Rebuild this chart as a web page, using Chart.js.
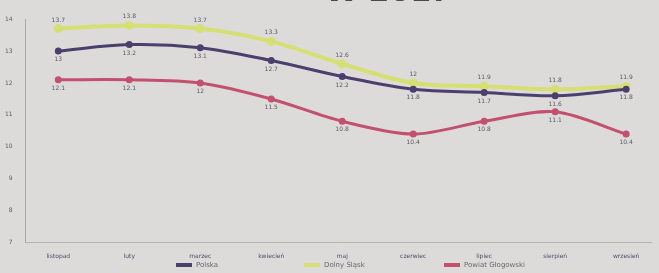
<!DOCTYPE html>
<html>
<head>
<meta charset="utf-8">
<script src="https://cdn.jsdelivr.net/npm/chart.js@4"></script>
<style>
  html, body { margin: 0; padding: 0; background: #dddbd9; }
  #wrap { width: 659px; height: 273px; }
</style>
</head>
<body>
<div id="wrap"><canvas id="myChart"></canvas></div>
<script>
const miesiace = ['listopad', 'luty', 'marzec', 'kwiecień', 'maj', 'czerwiec', 'lipiec', 'sierpień', 'wrzesień'];
const polska = [13.0, 13.2, 13.1, 12.7, 12.2, 11.8, 11.7, 11.6, 11.8];
const dolnySlask = [13.7, 13.8, 13.7, 13.3, 12.6, 12.0, 11.9, 11.8, 11.9];
const powiat = [12.1, 12.1, 12.0, 11.5, 10.8, 10.4, 10.8, 11.1, 10.4];
const osY = [7, 8, 9, 10, 11, 12, 13, 14];
const legendaX = [176, 304, 444];

const punkty = (arr) => arr.map((v, i) => ({ x: i, y: v }));

// podpisy wartosci przy punktach
const etykiety = {
  id: 'etykiety',
  afterDatasetsDraw(chart) {
    const c = chart.ctx;
    c.save();
    c.font = '6px "DejaVu Sans"';
    c.fillStyle = '#5a5866';
    c.textAlign = 'center';
    chart.data.datasets.forEach((ds, di) => {
      const meta = chart.getDatasetMeta(di);
      meta.data.forEach((pt, i) => {
        const v = ds.data[i].y;
        const txt = Number.isInteger(v) ? String(v) : v.toFixed(1);
        const dy = ds.labelAbove ? -7 : 10;
        c.fillText(txt, pt.x, pt.y + dy);
      });
    });
    c.restore();
  }
};

// legenda pod osia + resztka tytulu ucietego u gory
const dodatki = {
  id: 'dodatki',
  afterDraw(chart) {
    const c = chart.ctx;
    c.save();
    c.font = '7px "DejaVu Sans"';
    c.textBaseline = 'middle';
    chart.data.datasets.forEach((ds, di) => {
      const x = legendaX[di];
      c.fillStyle = ds.borderColor;
      c.fillRect(x, 263, 16, 4);
      c.fillStyle = '#6a6670';
      c.fillText(ds.label, x + 20, 265);
    });
    c.font = 'bold 30px "DejaVu Sans"';
    c.fillStyle = '#4a4850';
    c.textAlign = 'right';
    c.textBaseline = 'alphabetic';
    c.fillText('– W 2017', 452, 1);
    c.restore();
  }
};

new Chart(document.getElementById('myChart'), {
  type: 'line',
  data: {
    datasets: [{
      label: 'Polska',
      data: punkty(polska),
      borderColor: '#4b3f6e',
      backgroundColor: '#4b3f6e',
      borderWidth: 3,
      pointRadius: 2,
      tension: 0.35,
      labelAbove: false
    }, {
      label: 'Dolny Śląsk',
      data: punkty(dolnySlask),
      borderColor: '#d6df72',
      backgroundColor: '#d6df72',
      borderWidth: 4,
      pointRadius: 2.5,
      tension: 0.35,
      labelAbove: true
    }, {
      label: 'Powiat Głogowski',
      data: punkty(powiat),
      borderColor: '#c2506e',
      backgroundColor: '#c2506e',
      borderWidth: 3,
      pointRadius: 2,
      tension: 0.3,
      labelAbove: false
    }]
  },
  options: {
    responsive: true,
    maintainAspectRatio: false,
    animation: false,
    layout: { padding: { top: 19, right: 4, left: 0, bottom: 11 } },
    scales: {
      x: {
        type: 'linear',
        min: -0.46,
        max: 8.35,
        afterBuildTicks: (ax) => { ax.ticks = miesiace.map((m, i) => ({ value: i })); },
        ticks: {
          callback: (v) => miesiace[v],
          color: '#4d4a6a',
          font: { size: 6, family: 'DejaVu Sans' },
          padding: 2,
          maxRotation: 0,
          autoSkip: false
        },
        grid: { display: false },
        border: { color: '#b4b2b2', dash: [2, 3] }
      },
      y: {
        min: 7,
        max: 14,
        afterBuildTicks: (ax) => { ax.ticks = osY.map((v) => ({ value: v })); },
        ticks: {
          color: '#5d5a68',
          font: { size: 6, family: 'DejaVu Sans' },
          padding: 5
        },
        grid: { display: false },
        border: { color: '#a9a7a8', width: 1 }
      }
    },
    plugins: {
      legend: { display: false },
      tooltip: { enabled: false }
    }
  },
  plugins: [etykiety, dodatki]
});
</script>
</body>
</html>
